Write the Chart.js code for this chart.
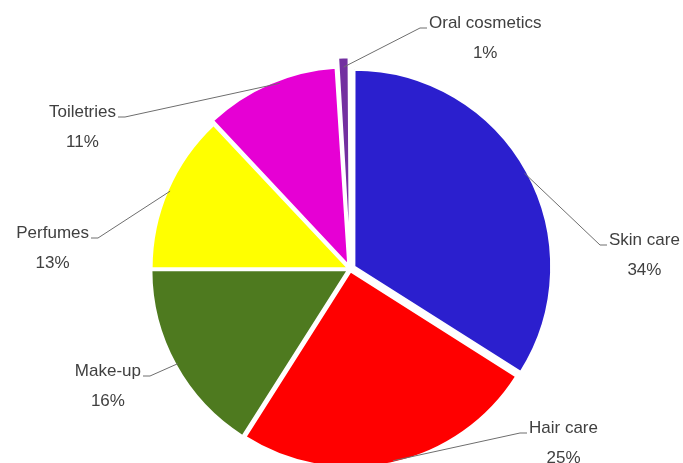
<!DOCTYPE html>
<html>
<head>
<meta charset="utf-8">
<script src="https://cdn.jsdelivr.net/npm/chart.js@4"></script>
<style>
  html, body { margin: 0; padding: 0; background: #fff; overflow: hidden; }
  #wrap { width: 683px; height: 463px; }
</style>
</head>
<body>
<div id="wrap"><canvas id="pie" width="683" height="463"></canvas></div>
<script>
// données du graphique
const categories = ['Skin care', 'Hair care', 'Make-up', 'Perfumes', 'Toiletries', 'Oral cosmetics'];
const shares = [34, 25, 16, 13, 11, 1];
const sliceColors = ['#2b1fce', '#ff0000', '#4e7a1f', '#ffff00', '#e600d4', '#7330a0'];
// Chart.js divise l'offset par 4 au dessin
const sliceOffsets = [20, 10, 10, 8, 18, 32];

// coude de chaque étiquette (x, y), côté du texte, point d'attache dans la part (0..1)
const labelSpots = [
    { x: 600, y: 245, side: 'right', at: 0.5 },
    { x: 520, y: 433, side: 'right', at: 0.5 },
    { x: 150, y: 376, side: 'left', at: 0.5 },
    { x: 98, y: 238, side: 'left', at: 0.5 },
    { x: 125, y: 117, side: 'left', at: 0.57 },
    { x: 420, y: 28, side: 'right', at: 0.5 }
];

const leaderLabels = {
    id: 'leaderLabels',
    afterDatasetsDraw(chart) {
        const ctx = chart.ctx;
        const arcs = chart.getDatasetMeta(0).data;
        ctx.save();
        ctx.font = '17px "Liberation Sans", Arial, sans-serif';
        arcs.forEach((arc, i) => {
            const p = arc.getProps(['x', 'y', 'startAngle', 'endAngle', 'outerRadius']);
            const spot = labelSpots[i];
            const mid = (p.startAngle + p.endAngle) / 2;
            const a = p.startAngle + (p.endAngle - p.startAngle) * spot.at;
            const off = sliceOffsets[i] / 4;
            const r = p.outerRadius - 2;
            const sx = p.x + Math.cos(mid) * off + Math.cos(a) * r;
            const sy = p.y + Math.sin(mid) * off + Math.sin(a) * r;
            const dir = spot.side === 'right' ? 1 : -1;
            const tx = spot.x + dir * 7;

            ctx.strokeStyle = '#6e6e6e';
            ctx.lineWidth = 1;
            ctx.beginPath();
            ctx.moveTo(sx, sy);
            ctx.lineTo(spot.x, spot.y);
            ctx.lineTo(tx, spot.y);
            ctx.stroke();

            const name = categories[i];
            const w = ctx.measureText(name).width;
            const left = dir === 1 ? tx + 2 : tx - 2 - w;
            ctx.fillStyle = '#404040';
            ctx.textBaseline = 'middle';
            ctx.textAlign = 'left';
            ctx.fillText(name, left, spot.y - 5);
            ctx.textAlign = 'center';
            ctx.fillText(shares[i] + '%', left + w / 2, spot.y + 25);
        });
        ctx.restore();
    }
};

new Chart(document.getElementById('pie'), {
    type: 'pie',
    data: {
        labels: categories,
        datasets: [{
            data: shares,
            backgroundColor: sliceColors,
            borderColor: '#ffffff',
            borderWidth: 2,
            offset: sliceOffsets
        }]
    },
    options: {
        responsive: false,
        animation: false,
        radius: 196,
        layout: { padding: { top: 75, left: 17, right: 0, bottom: 0 } },
        plugins: {
            legend: { display: false },
            tooltip: { enabled: false }
        }
    },
    plugins: [leaderLabels]
});
</script>
</body>
</html>
